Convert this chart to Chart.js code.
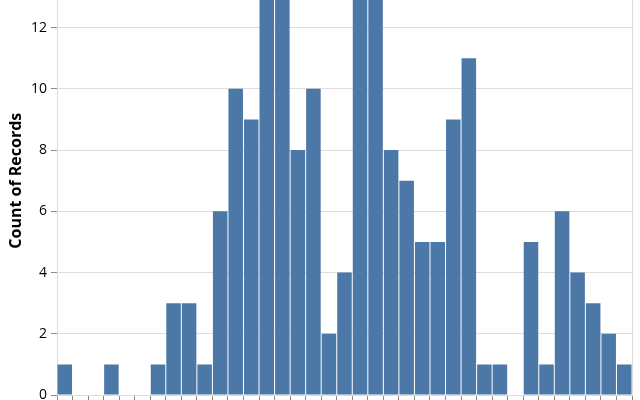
<!DOCTYPE html>
<html>
<head>
<meta charset="utf-8">
<script src="https://cdn.jsdelivr.net/npm/chart.js@4/dist/chart.umd.min.js"></script>
<style>
  html, body { margin: 0; padding: 0; background: #fff; }
  #wrap { position: relative; width: 640px; height: 400px; overflow: hidden; }
  #histChart { position: absolute; left: 0; top: -46px; }
</style>
</head>
<body>
<div id="wrap"><canvas id="histChart" width="640" height="485"></canvas></div>
<script>
// Histogram bins (labels fall below the visible area)
const binLabels = ['b1', 'b2', 'b3', 'b4', 'b5', 'b6', 'b7', 'b8', 'b9', 'b10',
                   'b11', 'b12', 'b13', 'b14', 'b15', 'b16', 'b17', 'b18', 'b19', 'b20',
                   'b21', 'b22', 'b23', 'b24', 'b25', 'b26', 'b27', 'b28', 'b29', 'b30',
                   'b31', 'b32', 'b33', 'b34', 'b35', 'b36', 'b37'];
const recordCounts = [1, 0, 0, 1, 0, 0, 1, 3, 3, 1, 6, 10, 9, 13, 14, 8, 10, 2, 4, 14,
                      13, 8, 7, 5, 5, 9, 11, 1, 1, 0, 5, 1, 6, 4, 3, 2, 1];
const yMax = 14;
const yStep = 2;

// view border like vega-lite (light gray frame around plot)
const viewStroke = {
    id: 'viewStroke',
    beforeDatasetsDraw(chart) {
        const a = chart.chartArea;
        const ctx = chart.ctx;
        ctx.save();
        ctx.strokeStyle = '#ddd';
        ctx.lineWidth = 1;
        ctx.strokeRect(a.left + 0.5, a.top + 0.5, a.right - a.left, a.bottom - a.top);
        ctx.restore();
    }
};

const ctx = document.getElementById('histChart').getContext('2d');
new Chart(ctx, {
    type: 'bar',
    data: {
        labels: binLabels,
        datasets: [{
            data: recordCounts,
            backgroundColor: '#4c78a8',
            barPercentage: 0.935,
            categoryPercentage: 1
        }]
    },
    options: {
        responsive: false,
        animation: false,
        layout: { padding: { left: 0, right: 8, top: 0, bottom: 0 } },
        plugins: {
            legend: { display: false },
            tooltip: { enabled: false }
        },
        scales: {
            x: {
                grid: {
                    offset: true,
                    drawOnChartArea: false,
                    drawTicks: true,
                    tickLength: 5,
                    tickColor: '#888'
                },
                border: { color: '#888' },
                ticks: { display: false },
                afterFit(scale) { scale.height = 44; }
            },
            y: {
                min: 0,
                max: yMax,
                ticks: {
                    stepSize: yStep,
                    color: '#000',
                    padding: 4,
                    font: { family: 'Open Sans', size: 14 }
                },
                grid: {
                    color: '#ddd',
                    tickColor: '#888',
                    tickLength: 6
                },
                border: { color: '#888' },
                title: {
                    display: true,
                    text: 'Count of Records',
                    color: '#000',
                    padding: { top: 7, bottom: 0 },
                    font: { family: 'Open Sans', size: 16, weight: 'bold' }
                },
                afterFit(scale) { scale.width = 57; }
            }
        }
    },
    plugins: [viewStroke]
});
</script>
</body>
</html>
